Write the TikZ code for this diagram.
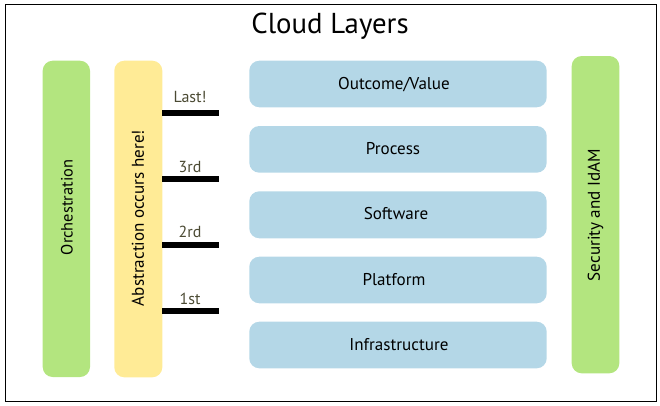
\documentclass[tikz,border=0pt]{standalone}
\usepackage{fontspec}
\setmainfont{PT Sans}
\definecolor{layerblue}{HTML}{B4D7E7}
\definecolor{sidegreen}{HTML}{B3E57F}
\definecolor{absyellow}{HTML}{FFEB96}
\definecolor{steptext}{HTML}{4B4A33}
\begin{document}
\begin{tikzpicture}[x=0.75pt,y=-0.75pt,
  layer/.style={fill=layerblue,rounded corners=7.5pt},
  side/.style={fill=sidegreen,rounded corners=7.5pt},
  absbox/.style={fill=absyellow,rounded corners=7.5pt},
  lbl/.style={font=\fontsize{12.8}{15}\selectfont,text=black,inner sep=0pt,anchor=base},
  vlbl/.style={font=\fontsize{12.8}{15}\selectfont,text=black,inner sep=0pt,rotate=90},
  steplbl/.style={font=\fontsize{12}{14}\selectfont,text=steptext,inner sep=0pt,anchor=base},
  bar/.style={line width=4.5pt,black}]
\useasboundingbox (0,0) rectangle (660,405);
\draw[line width=0.75pt] (5,4) rectangle (656,401);
\node[font=\fontsize{21.6}{26}\selectfont,inner sep=0pt,anchor=base] (title) at (330,33.3) {Cloud Layers};
% side columns
\fill[side] (42.7,60.7) rectangle (90,377);
\node[vlbl,font=\fontsize{12.3}{15}\selectfont] (orch) at (66.8,207.5) {Orchestration};
\fill[absbox] (114.3,60.7) rectangle (162.3,377.3);
\node[vlbl] (abs) at (138,218) {Abstraction occurs here!};
\fill[side] (571.7,56) rectangle (619.3,373.3);
\node[vlbl] (sec) at (595.5,215) {Security and IdAM};
% layers
\fill[layer] (249.3,60.7) rectangle (546.7,107.3);
\node[lbl] (l1) at (394,89.3) {Outcome/Value};
\fill[layer] (249.3,126) rectangle (546.7,172.7);
\node[lbl] (l2) at (393,154.3) {Process};
\fill[layer] (249.3,191.3) rectangle (546.7,238.3);
\node[lbl] (l3) at (396,219.8) {Software};
\fill[layer] (249.3,256.7) rectangle (546.7,303.3);
\node[lbl] (l4) at (394,285.2) {Platform};
\fill[layer] (249.3,321.7) rectangle (546.7,368.3);
\node[lbl] (l5) at (399,350.2) {Infrastructure};
% bars
\coordinate (b1a) at (162.3,113.3); \coordinate (b1b) at (218.7,113.3);
\coordinate (b2a) at (162.3,179.3); \coordinate (b2b) at (218.7,179.3);
\coordinate (b3a) at (162.3,245.3); \coordinate (b3b) at (218.7,245.3);
\coordinate (b4a) at (162.3,311.3); \coordinate (b4b) at (218.7,311.3);
\draw[bar] (b1a) -- (b1b);
\draw[bar] (b2a) -- (b2b);
\draw[bar] (b3a) -- (b3b);
\draw[bar] (b4a) -- (b4b);
\node[steplbl] (s1) at (190,102.7) {Last!};
\node[steplbl] (s2) at (190,172.7) {3rd};
\node[steplbl] (s3) at (190,237.7) {2rd};
\node[steplbl] (s4) at (190,304.3) {1st};
\end{tikzpicture}
\end{document}
